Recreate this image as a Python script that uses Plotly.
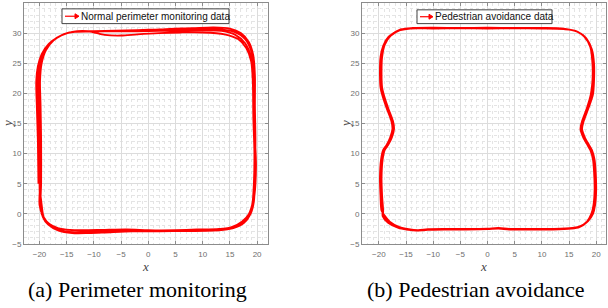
import plotly.graph_objects as go

# ---------------- Data ----------------
# (a) Normal perimeter monitoring: 4 laps
a_lap1_x = [-20.2, -20.3, -20.5, -20.6, -20.3, -19.6, -18.3, -16.5, -14.5, -12, -8, -4, 0, 4, 8, 12, 15, 17, 18.5, 19.3, 19.6, 19.6, 19.7, 19.6, 19.4, 18.8, 17.6, 15.5, 13, 8, 3, -2, -7, -11, -14, -16.5, -18.3, -19.4, -20.0]
a_lap1_y = [5, 12, 18, 22, 24.5, 26.5, 28.2, 29.4, 30.1, 30.3, 30.3, 30.4, 30.5, 30.7, 30.8, 30.95, 30.75, 30.0, 28.5, 26.3, 23, 18, 12, 6, 2, 0, -1.5, -2.4, -2.6, -2.7, -2.75, -2.7, -2.7, -2.7, -2.7, -2.4, -1.6, -0.3, 1.5]
a_lap2_x = [-19.9, -20.0, -20.2, -20.3, -20.0, -19.2, -17.8, -16, -14, -11, -8, -5, -2, 2, 6, 10, 14, 16.5, 18.0, 18.9, 19.2, 19.3, 19.5, 19.4, 19.1, 18.4, 17, 15, 12, 7, 2, -3, -8, -11, -14, -16.5, -18.4, -19.4, -19.8]
a_lap2_y = [5, 12, 18, 22, 24.5, 26.8, 28.5, 29.6, 30.2, 30.3, 29.7, 29.6, 29.8, 30.0, 30.1, 30.1, 29.8, 29.0, 27.5, 25.3, 22, 16, 10, 5, 1.5, -0.5, -1.8, -2.5, -2.8, -2.85, -2.9, -2.9, -3.1, -3.2, -3.2, -2.8, -1.8, -0.5, 1.5]
a_lap3_x = [-19.7, -19.7, -19.8, -19.9, -19.6, -18.8, -17.4, -15.6, -13.5, -10, -6, -2, 2, 6, 10, 13.5, 16, 17.8, 18.9, 19.3, 19.4, 19.6, 19.5, 19.2, 18.5, 17.2, 15.3, 12.5, 8, 4, 0, -4, -8, -11, -13.5, -16, -18, -19.2, -19.6]
a_lap3_y = [5, 12, 18, 22, 25, 27.2, 28.8, 29.8, 30.2, 30.25, 30.3, 30.3, 30.35, 30.4, 30.45, 30.35, 29.7, 28.3, 26.0, 23, 17, 11, 6, 2, 0, -1.3, -2.2, -2.6, -2.7, -2.75, -2.7, -2.6, -2.65, -2.7, -2.7, -2.5, -1.8, -0.6, 1.5]
a_lap4_x = [-20.0, -20.1, -20.0, -20.1, -19.8, -19.0, -17.6, -15.8, -13.8, -10, -6, -2, 2, 6, 10, 13, 15.8, 17.8, 19.0, 19.5, 19.5, 19.6, 19.8, 19.5, 18.9, 17.8, 16, 13, 9, 5, 0, -5, -9, -12, -14.5, -16.8, -18.6, -19.6, -19.9, -20.0]
a_lap4_y = [5, 12, 18, 22, 24.8, 27.0, 28.7, 29.7, 30.2, 30.3, 30.4, 30.5, 30.6, 30.7, 30.75, 30.65, 30.2, 29.0, 26.8, 24, 19, 13, 8, 3, 0.5, -1, -2.1, -2.5, -2.6, -2.7, -2.75, -2.8, -2.9, -3.0, -3.0, -2.6, -1.6, 0, 2, 5]

# (b) Pedestrian avoidance: 4 laps
b_lap1_x = [-19.4, -19.6, -19.7, -19.5, -19.1, -18.5, -17.8, -17.4, -17.6, -18.5, -19.3, -19.6, -19.7, -19.6, -19.1, -18.0, -16.2, -14, -10, -5, 0, 5, 10, 14, 16.4, 18.0, 19.0, 19.4, 19.4, 19.2, 18.4, 17.5, 17.2, 17.7, 18.5, 19.0, 19.5, 19.7, 19.8, 19.6, 19.2, 18.3, 17.0, 15.5, 12, 8, 4, 2, 0, -4, -8, -11, -13, -14.5, -16.3, -18.2, -19.2]
b_lap1_y = [0.5, 3, 6, 9, 10.6, 11.4, 12.7, 14.1, 15.4, 17.6, 19.8, 21, 23, 26, 28, 29.5, 30.5, 30.8, 30.8, 30.8, 30.8, 30.8, 30.8, 30.7, 30.3, 29.3, 27.5, 25, 22, 19.8, 17.6, 15.4, 14.1, 12.7, 11.4, 10.6, 9, 7, 4, 1.5, 0, -1.3, -2.1, -2.4, -2.55, -2.55, -2.55, -2.4, -2.5, -2.55, -2.55, -2.6, -2.75, -2.6, -2.3, -1.4, -0.3]
b_lap2_x = [-19.2, -19.4, -19.5, -19.3, -18.9, -18.3, -17.6, -17.2, -17.4, -18.3, -19.1, -19.4, -19.5, -19.4, -18.9, -17.8, -16.0, -13.8, -10, -5, 0, 5, 10, 14, 16.6, 18.2, 19.2, 19.6, 19.6, 19.4, 18.6, 17.7, 17.4, 17.9, 18.7, 19.2, 19.7, 19.9, 20.0, 19.8, 19.4, 18.5, 17.2, 15.6, 12, 8, 4, 2, 0, -4, -8, -11, -12.8, -14.5, -16.2, -18.0, -19.0]
b_lap2_y = [0.5, 3, 6, 9, 10.6, 11.4, 12.7, 14.1, 15.4, 17.6, 19.8, 21, 23, 26, 28.1, 29.6, 30.6, 30.85, 30.9, 30.85, 30.9, 30.85, 30.85, 30.75, 30.2, 29.1, 27.3, 25, 22, 19.8, 17.6, 15.4, 14.1, 12.7, 11.4, 10.6, 9, 7, 4, 1.5, 0, -1.2, -2.0, -2.35, -2.5, -2.5, -2.5, -2.35, -2.45, -2.5, -2.5, -2.55, -2.7, -2.55, -2.2, -1.3, -0.2]
b_lap3_x = [-19.5, -19.7, -19.8, -19.6, -19.2, -18.6, -17.9, -17.5, -17.7, -18.6, -19.4, -19.7, -19.8, -19.7, -19.2, -18.2, -16.4, -14.2, -10, -5, 0, 5, 10, 14, 16.3, 17.8, 18.9, 19.3, 19.3, 19.0, 18.3, 17.4, 17.1, 17.6, 18.4, 18.9, 19.4, 19.6, 19.7, 19.5, 19.1, 18.2, 16.9, 15.4, 12, 8, 4, 2, 0, -4, -8, -11, -13.2, -14.6, -16.4, -18.3, -19.3]
b_lap3_y = [0.5, 3, 6, 9, 10.6, 11.4, 12.7, 14.1, 15.4, 17.6, 19.8, 21, 23, 26, 27.9, 29.4, 30.4, 30.75, 30.75, 30.8, 30.75, 30.8, 30.75, 30.65, 30.35, 29.4, 27.7, 25, 22, 19.8, 17.6, 15.4, 14.1, 12.7, 11.4, 10.6, 9, 7, 4, 1.5, 0, -1.4, -2.2, -2.45, -2.6, -2.6, -2.6, -2.45, -2.55, -2.6, -2.6, -2.65, -2.8, -2.65, -2.35, -1.5, -0.4]
b_lap4_x = [-19.3, -19.5, -19.6, -19.4, -19.0, -18.4, -17.7, -17.3, -17.5, -18.4, -19.2, -19.5, -19.6, -19.5, -19.0, -17.9, -16.1, -13.9, -10, -5, 0, 5, 10, 14, 16.5, 18.1, 19.1, 19.5, 19.5, 19.1, 18.5, 17.6, 17.3, 17.8, 18.6, 19.1, 19.6, 19.8, 19.9, 19.7, 19.3, 18.4, 17.1, 15.5, 12, 8, 4, 2, 0, -4, -8, -11, -13, -14.5, -16.3, -18.1, -19.1, -19.3]
b_lap4_y = [0.5, 3, 6, 9, 10.6, 11.4, 12.7, 14.1, 15.4, 17.6, 19.8, 21, 23, 26, 28, 29.5, 30.5, 30.8, 30.85, 30.8, 30.85, 30.8, 30.8, 30.7, 30.25, 29.2, 27.4, 25, 22, 19.8, 17.6, 15.4, 14.1, 12.7, 11.4, 10.6, 9, 7, 4, 1.5, 0, -1.3, -2.1, -2.4, -2.55, -2.55, -2.55, -2.4, -2.5, -2.55, -2.55, -2.6, -2.75, -2.6, -2.25, -1.35, -0.25, 0.5]

x_ticks = [-20, -15, -10, -5, 0, 5, 10, 15, 20]
y_ticks = [-5, 0, 5, 10, 15, 20, 25, 30, 35]
legend_a = "Normal perimeter monitoring data"
legend_b = "Pedestrian avoidance data"
caption_a = "(a) Perimeter monitoring"
caption_b = "(b) Pedestrian avoidance"

# ---------------- Figure ----------------
a_x = a_lap1_x + a_lap2_x + a_lap3_x + a_lap4_x
a_y = a_lap1_y + a_lap2_y + a_lap3_y + a_lap4_y
b_x = b_lap1_x + b_lap2_x + b_lap3_x + b_lap4_x
b_y = b_lap1_y + b_lap2_y + b_lap3_y + b_lap4_y

W, H = 608, 308
def px(v): return v / W
def py(v): return 1 - v / H

RED = "#ff0000"
fig = go.Figure()
fig.add_trace(go.Scatter(x=a_x, y=a_y, mode="lines", name=legend_a,
                         line=dict(color=RED, width=1.8, shape="spline", smoothing=0.8),
                         showlegend=False, xaxis="x", yaxis="y", hoverinfo="skip"))
fig.add_trace(go.Scatter(x=b_x, y=b_y, mode="lines", name=legend_b,
                         line=dict(color=RED, width=1.8, shape="spline", smoothing=0.8),
                         showlegend=False, xaxis="x2", yaxis="y2", hoverinfo="skip"))

axis_common = dict(
    showline=True, linecolor="#8c8c8c", linewidth=1, mirror="ticks",
    ticks="inside", ticklen=3, tickcolor="#8c8c8c",
    showgrid=True, gridcolor="#dcdcdc", gridwidth=1,
    zeroline=False, tickfont=dict(family="Liberation Sans, Arial", size=8, color="#6e6e6e"),
)
minor = dict(dtick=1, showgrid=True, gridcolor="#e4e4e4", griddash="dot", gridwidth=1, ticks="")
yr = [-5.001, 35.001]
title_font = dict(family="Liberation Serif, Times New Roman", size=13, color="#444")

shapes = []
annotations = []

def add_legend(x0, x1, y0, y1, text_x, arrow_x0, arrow_x1, label):
    ymid = (y0 + y1) / 2
    shapes.append(dict(type="rect", xref="paper", yref="paper", x0=px(x0), x1=px(x1), y0=py(y1), y1=py(y0),
                       line=dict(color="#444", width=1), fillcolor="white", layer="above"))
    shapes.append(dict(type="line", xref="paper", yref="paper", x0=px(arrow_x0), x1=px(arrow_x1 - 3),
                       y0=py(ymid), y1=py(ymid), line=dict(color=RED, width=1.2), layer="above"))
    shapes.append(dict(type="path", xref="paper", yref="paper",
                       path=f"M {px(arrow_x1 - 4)},{py(ymid - 2.5)} L {px(arrow_x1)},{py(ymid)} L {px(arrow_x1 - 4)},{py(ymid + 2.5)} Z",
                       line=dict(color=RED, width=1), fillcolor=RED, layer="above"))
    annotations.append(dict(text=label, x=px(text_x), y=py(ymid), xref="paper", yref="paper", showarrow=False,
                            xanchor="left", yanchor="middle",
                            font=dict(family="Liberation Sans, Arial", size=10, color="#111")))

add_legend(62, 229, 9, 24, 79, 65, 79, legend_a)
add_legend(417, 552, 10, 24, 433, 420, 433, legend_b)

for xc, ycap, cap in [(137, 294, caption_a), (475, 294, caption_b)]:
    annotations.append(dict(text=cap, x=px(xc), y=py(ycap), xref="paper", yref="paper", showarrow=False,
                            xanchor="center", yanchor="middle",
                            font=dict(family="Liberation Serif, Times New Roman", size=22, color="black")))
for xc in [8, 346]:
    annotations.append(dict(text="<i>y</i>", x=px(xc), y=py(126), xref="paper", yref="paper", showarrow=False,
                            xanchor="center", yanchor="middle", textangle=-90, font=title_font))

fig.update_layout(
    width=W, height=H, margin=dict(l=0, r=0, t=0, b=0),
    paper_bgcolor="white", plot_bgcolor="white", showlegend=False,
    xaxis=dict(domain=[px(24), px(268)], range=[-22.85, 22.0], tickvals=x_ticks, anchor="y", minor=minor,
               ticklabelstandoff=2, title=dict(text="<i>x</i>", font=title_font, standoff=1), **axis_common),
    yaxis=dict(domain=[py(248), py(3)], range=yr, tickvals=y_ticks, anchor="x", minor=minor, **axis_common),
    xaxis2=dict(domain=[px(362), px(606)], range=[-23.1, 21.8], tickvals=x_ticks, anchor="y2", minor=minor,
                ticklabelstandoff=2, title=dict(text="<i>x</i>", font=title_font, standoff=1), **axis_common),
    yaxis2=dict(domain=[py(248), py(3)], range=yr, tickvals=y_ticks, anchor="x2", minor=minor, **axis_common),
    shapes=shapes, annotations=annotations,
)
fig.write_html("out.html", config={"displayModeBar": False},
               post_script="document.body.style.margin='0px';document.body.style.overflow='hidden';")
